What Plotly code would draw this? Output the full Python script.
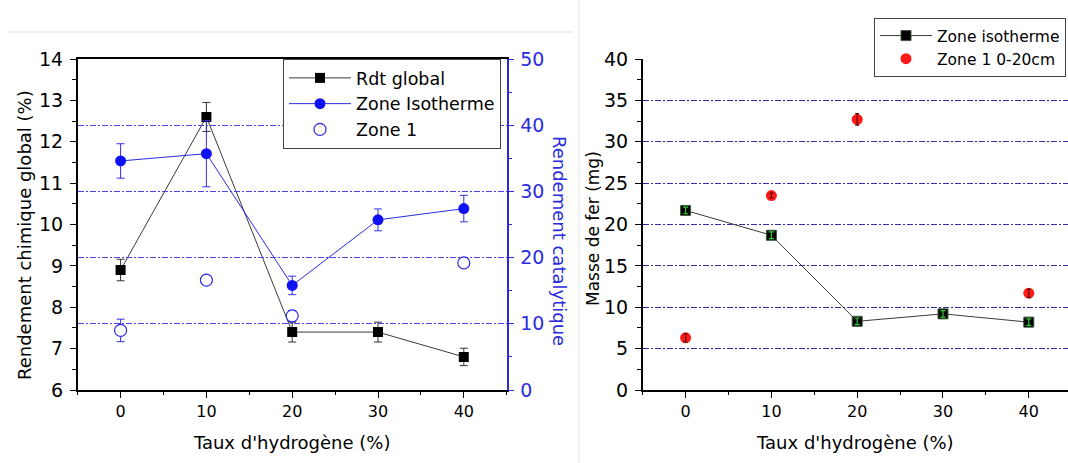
import plotly.graph_objects as go

# ---------------- data ----------------
taux_h2 = [0, 10, 20, 30, 40]

rdt_global = [8.9, 12.6, 7.4, 7.4, 6.8]
rdt_global_err = [0.26, 0.35, 0.24, 0.24, 0.21]

zone_iso = [34.6, 35.7, 15.8, 25.7, 27.4]
zone_iso_err = [2.6, 5.0, 1.4, 1.65, 2.0]

zone1_x = [0, 10, 20, 40]
zone1 = [9.0, 16.6, 11.2, 19.2]
zone1_err = [1.7, 0.0, 0.8, 0.0]

fer_iso = [21.7, 18.7, 8.3, 9.2, 8.2]
fer_iso_err = [0.4, 0.4, 0.4, 0.4, 0.4]

fer_z1_x = [0, 10, 20, 40]
fer_z1 = [6.3, 23.5, 32.7, 11.7]
fer_z1_err = [0.5, 0.3, 0.7, 0.5]

x_ticks = [0, 10, 20, 30, 40]

# ---------------- geometry ----------------
W, H = 1068, 463
MT, MB = 59, 73
PH = H - MT - MB


def fx(px):
    return px / W


def fy(py):
    return (H - MB - py) / PH


FONT = "DejaVu Sans"
BLUE = "#1010f5"
BLUE_AX = "#2b2be0"
GRID_L = "rgb(70,70,225)"
GRID_R = "rgb(48,48,168)"
LEFT_DOM = [fx(77.7), fx(506.7)]

fig = go.Figure()

# ---- left chart ----
# yaxis  : black "Rendement chimique global" axis (left)
# yaxis2 : blue "Rendement catalytique" axis (right, overlay)
# yaxis4 : same 0-50 scale, non-overlaid, carries the dash-dot grid and "Zone 1"
fig.add_trace(go.Scatter(
    x=taux_h2, y=rdt_global, name="Rdt global", mode="lines+markers",
    xaxis="x", yaxis="y",
    line=dict(color="#3a3a3a", width=1),
    marker=dict(symbol="square", size=10, color="black"),
    error_y=dict(type="data", array=rdt_global_err, color="#333333", thickness=1, width=4),
    legend="legend",
))
fig.add_trace(go.Scatter(
    x=taux_h2, y=zone_iso, name="Zone Isotherme", mode="lines+markers",
    xaxis="x", yaxis="y2",
    line=dict(color="#2a2ae6", width=1),
    marker=dict(symbol="circle", size=11, color=BLUE),
    error_y=dict(type="data", array=zone_iso_err, color="#3030e0", thickness=1, width=4),
    legend="legend",
))
fig.add_trace(go.Scatter(
    x=zone1_x, y=zone1, name="Zone 1", mode="markers",
    xaxis="x", yaxis="y4",
    marker=dict(symbol="circle", size=12, color="white", line=dict(color="#2a2ae6", width=1.2)),
    error_y=dict(type="data", array=zone1_err, color="#3030e0", thickness=1, width=4),
    legend="legend",
))

# ---- right chart ----
fig.add_trace(go.Scatter(
    x=taux_h2, y=fer_iso, name="Zone isotherme", mode="lines+markers",
    xaxis="x2", yaxis="y3",
    line=dict(color="#3a3a3a", width=1),
    marker=dict(symbol="square", size=10, color="black", line=dict(color="#3d5a3d", width=1)),
    legend="legend2",
))
fig.add_trace(go.Scatter(
    x=taux_h2, y=fer_iso, mode="markers", showlegend=False, hoverinfo="skip",
    xaxis="x2", yaxis="y3",
    marker=dict(size=1, color="rgba(0,0,0,0)"),
    error_y=dict(type="data", array=fer_iso_err, color="#33cc33", thickness=1.2, width=2.5),
))
fig.add_trace(go.Scatter(
    x=fer_z1_x, y=fer_z1, name="Zone 1 0-20cm", mode="markers",
    xaxis="x2", yaxis="y3",
    marker=dict(symbol="circle", size=11, color="#ff1a1a"),
    legend="legend2",
))
fig.add_trace(go.Scatter(
    x=fer_z1_x, y=fer_z1, mode="markers", showlegend=False, hoverinfo="skip",
    xaxis="x2", yaxis="y3",
    marker=dict(size=1, color="rgba(0,0,0,0)"),
    error_y=dict(type="data", array=fer_z1_err, color="#5a0000", thickness=1.2, width=2),
))

fig.update_layout(
    width=W, height=H,
    margin=dict(l=0, r=0, t=MT, b=MB, autoexpand=False),
    paper_bgcolor="white", plot_bgcolor="rgba(0,0,0,0)",
    font=dict(family=FONT, color="black"),
    xaxis=dict(domain=LEFT_DOM, range=[-5, 45], anchor="y",
               tickvals=x_ticks, tickfont=dict(size=16), mirror=True,
               ticks="outside", ticklen=6, tickwidth=1.2, tickcolor="black",
               showline=True, linecolor="black", linewidth=1.5, zeroline=False, showgrid=False,
               minor=dict(ticks="outside", ticklen=3.5, dtick=5, tick0=0, tickcolor="black"),
               title=dict(text="Taux d'hydrogène (%)", font=dict(size=18), standoff=16)),
    yaxis=dict(domain=[0, 1], side="left", anchor="x", range=[6, 14], dtick=1, tick0=0,
               tickfont=dict(size=19), ticklabelstandoff=3,
               ticks="outside", ticklen=6, tickwidth=1.2, tickcolor="black",
               showline=True, linecolor="black", linewidth=1.5, zeroline=False, showgrid=False,
               minor=dict(ticks="outside", ticklen=3.5, dtick=0.5, tick0=0, tickcolor="black",
                          showgrid=False)),
    yaxis2=dict(overlaying="y", side="right", anchor="x", range=[0, 50], dtick=10, tick0=0,
                ticks="outside", ticklen=6, tickwidth=1.2, tickcolor=BLUE_AX,
                showline=True, linecolor=BLUE_AX, linewidth=1.5, zeroline=False,
                tickfont=dict(size=19, color=BLUE_AX), ticklabelstandoff=2,
                showgrid=False,
                minor=dict(ticks="outside", ticklen=3.5, dtick=5, tick0=0, tickcolor=BLUE_AX,
                           showgrid=False)),
    yaxis4=dict(domain=[0, 1], side="left", anchor="x", range=[0, 50], dtick=10, tick0=0,
                showgrid=True, gridcolor=GRID_L, gridwidth=1, griddash="6px,2px,2px,2px",
                showline=False, ticks="", showticklabels=False, zeroline=False),
    xaxis2=dict(domain=[fx(642.7), 1.0], range=[-5, 44.57], anchor="y3",
                tickvals=x_ticks, tickfont=dict(size=16),
                ticks="outside", ticklen=6, tickwidth=1.2, tickcolor="black",
                showline=True, linecolor="black", linewidth=1.5, zeroline=False, showgrid=False,
                minor=dict(ticks="outside", ticklen=3.5, dtick=5, tick0=0, tickcolor="black"),
                title=dict(text="Taux d'hydrogène (%)", font=dict(size=18), standoff=16)),
    yaxis3=dict(domain=[0, 1], range=[0, 40], anchor="x2", dtick=5, tick0=0,
                ticks="outside", ticklen=6, tickwidth=1.2, tickcolor="black",
                showline=True, linecolor="black", linewidth=1.5, zeroline=False,
                tickfont=dict(size=19), ticklabelstandoff=3,
                showgrid=True, gridcolor=GRID_R, gridwidth=1, griddash="6px,2px,2px,2px",
                minor=dict(ticks="outside", ticklen=3.5, dtick=2.5, tick0=0, tickcolor="black")),
    legend=dict(x=fx(283), y=1.0, xanchor="left", yanchor="top",
                bgcolor="white", bordercolor="#444444", borderwidth=1,
                font=dict(size=17.5, family=FONT, color="black"), itemwidth=62,
                tracegroupgap=0),
    legend2=dict(x=fx(874), y=fy(18), xanchor="left", yanchor="top",
                 bgcolor="white", bordercolor="#444444", borderwidth=1,
                 font=dict(size=15.5, family=FONT, color="black"), itemwidth=52,
                 tracegroupgap=0),
    showlegend=True,
)

fig.add_annotation(text="Rendement chimique global (%)", xref="paper", yref="paper",
                   x=fx(24), y=fy(235), textangle=-90, showarrow=False,
                   xanchor="center", yanchor="middle", font=dict(size=18, color="black"))
fig.add_annotation(text="Rendement catalytique", xref="paper", yref="paper",
                   x=fx(560), y=fy(241), textangle=90, showarrow=False,
                   xanchor="center", yanchor="middle", font=dict(size=18, color=BLUE_AX))
fig.add_annotation(text="Masse de fer (mg)", xref="paper", yref="paper",
                   x=fx(593), y=fy(229), textangle=-90, showarrow=False,
                   xanchor="center", yanchor="middle", font=dict(size=17, color="black"))

# faint frame lines of the embedded figures
fig.add_shape(type="line", xref="paper", yref="paper", x0=fx(9), x1=fx(573), y0=fy(32), y1=fy(32),
              line=dict(color="#dddddd", width=1))
fig.add_shape(type="line", xref="paper", yref="paper", x0=fx(579), x1=fx(579), y0=fy(0), y1=fy(463),
              line=dict(color="#e2e2e2", width=1))

fig.write_html(
    "out.html",
    config={"displayModeBar": False},
    post_script="document.body.style.margin='0';document.body.style.overflow='hidden';",
)
